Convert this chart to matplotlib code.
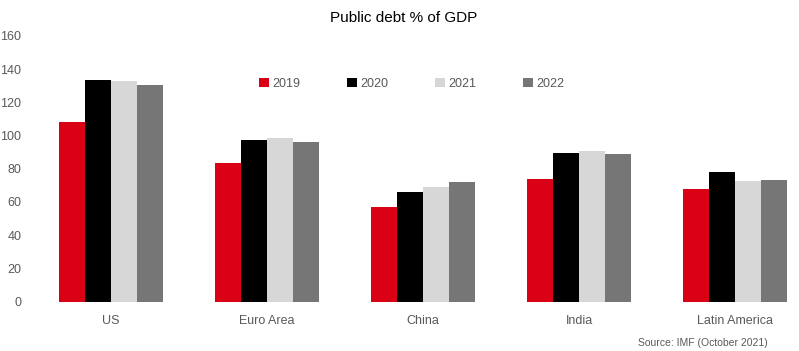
import matplotlib
matplotlib.use("Agg")
import matplotlib.pyplot as plt
import numpy as np

plt.rcParams['font.family'] = ['Liberation Sans', 'DejaVu Sans']

categories = ["US", "Euro Area", "China", "India", "Latin America"]
years = ["2019", "2020", "2021", "2022"]
v2019 = [108.1, 83.4, 56.9, 73.8, 67.8]
v2020 = [133.4, 97.3, 66.0, 89.5, 78.0]
v2021 = [132.8, 98.5, 69.0, 90.7, 72.6]
v2022 = [130.4, 96.1, 72.0, 88.9, 73.2]
series = [v2019, v2020, v2021, v2022]
colors = ["#DA0016", "#000000", "#D7D7D7", "#767676"]
yticks = [0, 20, 40, 60, 80, 100, 120, 140, 160]

W, H = 799, 351
fig = plt.figure(figsize=(W / 100, H / 100), dpi=100)
ax = fig.add_axes([33 / W, 49.5 / H, 766 / W, 265.7 / H])

x = np.arange(len(categories))
bw = 0.1667
for i, (vals, c, lab) in enumerate(zip(series, colors, years)):
    ax.bar(x + (i - 1.5) * bw, vals, width=bw, color=c, label=lab, linewidth=0)

ax.set_xlim(-0.5, 4.41)
ax.set_ylim(0, 160)
ax.set_yticks(yticks)
ax.set_xticks(x)
ax.set_xticklabels(categories)
for s in ax.spines.values():
    s.set_visible(False)
ax.tick_params(axis='both', length=0, colors='#595959', labelsize=9)
ax.tick_params(axis='x', pad=9.5)
ax.tick_params(axis='y', pad=8.5)

fig.text(404 / W, 1 - 18 / H, "Public debt % of GDP", ha='center', va='center',
         fontsize=11, color='#000000')

leg = ax.legend(loc='center', bbox_to_anchor=(412 / W, 1 - 84 / H),
                bbox_transform=fig.transFigure, ncol=4, frameon=False,
                handlelength=0.75, handleheight=0.75, handletextpad=0.3,
                columnspacing=3.75, fontsize=9)
for t in leg.get_texts():
    t.set_color('#595959')

fig.text(768 / W, 1 - 343 / H, "Source: IMF (October 2021)", ha='right', va='center',
         fontsize=7.5, color='#595959')

fig.savefig("out.png", dpi=100)
